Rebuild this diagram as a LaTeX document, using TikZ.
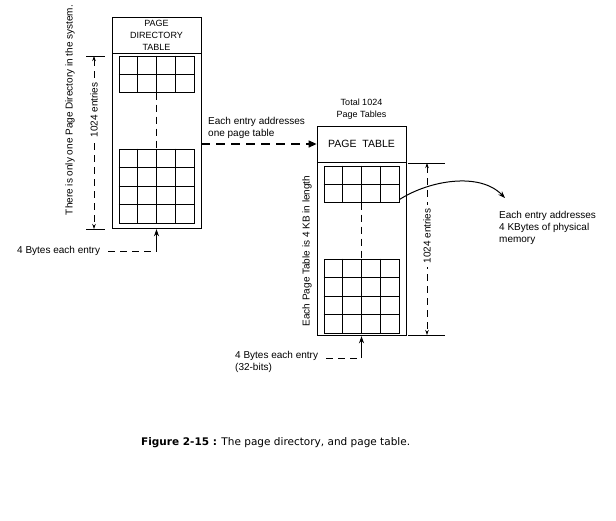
\documentclass[tikz,border=0pt]{standalone}
\usepackage{fontspec}
\setmainfont{Liberation Sans}
\newfontfamily\capfont{DejaVu Sans}
\usetikzlibrary{arrows.meta, positioning, calc}

% grid lines inside a table block: #1 node, #2 row fractions
\newcommand\cellgrid[2]{%
  \foreach \c in {1,2,3}
    \draw[cellline] ($(#1.north west)!\c/4!(#1.north east)$) -- ($(#1.south west)!\c/4!(#1.south east)$);
  \foreach \r in {#2}
    \draw[cellline] ($(#1.north west)!\r!(#1.south west)$) -- ($(#1.north east)!\r!(#1.south east)$);
}

\begin{document}
\begin{tikzpicture}[x=1pt, y=-1pt,
  every node/.style={font=\fontsize{10}{12}\selectfont, inner sep=0pt},
  small/.style={font=\fontsize{9}{12}\selectfont},
  table/.style={draw, line width=0.8pt, minimum width=89pt},
  block/.style={draw, line width=1pt, minimum width=75pt},
  cellline/.style={line width=1pt},
  tick/.style={line width=0.8pt},
  dashline/.style={line width=1pt, dash pattern=on 7pt off 5pt},
  dimarrow/.style={line width=0.8pt, dash pattern=on 7pt off 5pt, {Stealth[length=5pt,width=3.5pt]}-{Stealth[length=5pt,width=3.5pt]}},
  arrow/.style={-{Stealth[length=7pt,width=5pt]}, line width=1pt},
  linkarrow/.style={-{Triangle[length=8pt,width=7pt]}, line width=1.3pt, dash pattern=on 9pt off 6pt},
]
\useasboundingbox (0,0) rectangle (616,520);

% page directory
\node[table, minimum height=36pt, align=center, small] (pdhead) at (156.5,35) {PAGE\\DIRECTORY\\TABLE};
\node[table, minimum height=175pt, below=0pt of pdhead] (pdbody) {};
\node[block, minimum height=36pt] (pdtop) at (156.5,74) {};
\node[block, minimum height=74pt] (pdbot) at (156.5,186) {};
\cellgrid{pdtop}{1/2}
\cellgrid{pdbot}{1/4,2/4,3/4}
\draw[dashline] (pdtop.south) -- (pdbot.north);

\coordinate (pdmarka) at (86,56);
\coordinate (pdmarkb) at (86,229);
\draw[tick] (pdmarka) -- ++(19,0);
\draw[tick] (pdmarkb) -- ++(19,0);
\draw[dimarrow] ($(pdmarka)+(8,0)$) -- ($(pdmarkb)+(8,0)$);
\node[rotate=90, fill=white, inner ysep=2pt, inner xsep=3pt] (pdcount) at (94,110) {1024 entries};
\node[rotate=90] (pdnote) at (70,110) {There is only one Page Directory in the system.};

\node[anchor=west] (pdsize) at (17,251) {4 Bytes each entry};
\coordinate (pdbend) at (pdsize.east -| pdbody.south);
\draw[dashline] ([xshift=8pt]pdsize.east) -- (pdbend);
\draw[arrow] (pdbend) -- (pdbody.south);

% page table
\node[table, minimum height=36pt, font=\fontsize{10.5}{12}\selectfont] (pthead) at (361.5,144) {PAGE\ \ TABLE};
\node[table, minimum height=173pt, below=0pt of pthead] (ptbody) {};
\node[block, minimum height=36pt] (pttop) at (361.5,184) {};
\node[block, minimum height=74pt] (ptbot) at (361.5,296) {};
\cellgrid{pttop}{1/2}
\cellgrid{ptbot}{1/4,2/4,3/4}
\draw[dashline] (pttop.south) -- (ptbot.north);
\node[small, align=center, above=6pt of pthead] (pttotal) {Total 1024\\Page Tables};

\draw[linkarrow] (pdbody.east |- pthead.west) -- (pthead.west);
\node[anchor=north west, align=left] (linknote) at (208,117) {Each entry addresses\\one page table};

\coordinate (ptmarka) at (408,163);
\coordinate (ptmarkb) at (408,335);
\draw[tick] (ptmarka) -- ++(37,0);
\draw[tick] (ptmarkb) -- ++(37,0);
\draw[dimarrow] ($(ptmarka)+(19,0)$) -- ($(ptmarkb)+(19,0)$);
\node[rotate=90, fill=white, inner ysep=2pt, inner xsep=3pt] (ptcount) at (427,236) {1024 entries};
\node[rotate=90] (ptnote) at (307,251) {Each Page Table is 4 KB in length};

\node[anchor=north west, align=left] (memnote) at (499,211) {Each entry addresses\\4 KBytes of physical\\memory};
\coordinate (memend) at (505,198);
\draw[arrow] ([yshift=3pt]pttop.south east) .. controls (430,180) and (480,172) .. (memend);

\node[anchor=north west, align=left] (ptsize) at (235,351) {4 Bytes each entry\\(32-bits)};
\coordinate (ptbend) at (ptsize.north east |- 0,358);
\coordinate (ptbend) at (ptbody.south |- ptbend);
\draw[dashline] ([xshift=8pt]ptsize.north east |- ptbend) -- (ptbend);
\draw[arrow] (ptbend) -- (ptbody.south);

% caption
\node[anchor=west, font=\capfont\fontsize{10.5}{12}\selectfont] (caption) at (141,443) {\textbf{Figure 2-15 :} The page directory, and page table.};
\end{tikzpicture}
\end{document}
